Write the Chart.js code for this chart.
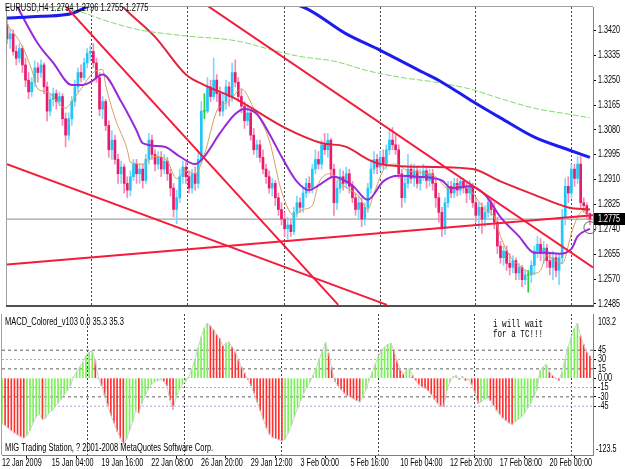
<!DOCTYPE html>
<html>
<head>
<meta charset="utf-8">
<script src="https://cdn.jsdelivr.net/npm/chart.js@4"></script>
<style>
  html, body { margin: 0; padding: 0; background: #fff; }
  #wrap { position: relative; width: 625px; height: 469px; }
  #price { position: absolute; left: 0; top: 0; }
  #macd { position: absolute; left: 0; top: 313px; }
</style>
</head>
<body>
<div id="wrap">
  <canvas id="price" width="625" height="313"></canvas>
  <canvas id="macd" width="625" height="156"></canvas>
</div>
<script>
const FONT = "'Liberation Sans', Arial, sans-serif";
const MONO = "'Liberation Mono', 'DejaVu Sans Mono', monospace";

// EURUSD H4 candles, oldest first (bar index = position)
const opens = [
  1.3441,1.3391,1.3408,1.3348,1.3325,1.3358,1.3302,1.3250,1.3210,1.3243,
  1.3292,1.3276,1.3302,1.3227,1.3144,1.3184,1.3204,1.3177,1.3194,1.3118,
  1.3062,1.3118,1.3177,1.3227,1.3276,1.3259,1.3309,1.3342,1.3348,1.3309,
  1.3259,1.3151,1.3177,1.3095,1.3012,1.3045,1.2979,1.2930,1.2953,1.2897,
  1.2874,1.2920,1.2963,1.2930,1.2946,1.2907,1.2979,1.3045,1.2996,1.2963,
  1.2986,1.2946,1.2973,1.2930,1.2881,1.2808,1.2848,1.2920,1.2953,1.2920,
  1.2881,1.2930,1.2897,1.2979,1.3144,1.3144,1.3227,1.3194,1.3250,1.3204,
  1.3144,1.3177,1.3227,1.3194,1.3276,1.3243,1.3194,1.3161,1.3111,1.3138,
  1.3062,1.3012,1.3029,1.2986,1.2946,1.2920,1.2881,1.2897,1.2848,1.2808,
  1.2775,1.2742,1.2755,1.2732,1.2798,1.2831,1.2815,1.2864,1.2897,1.2881,
  1.2946,1.2979,1.2963,1.3029,1.3012,1.3045,1.2946,1.2831,1.2881,1.2920,
  1.2897,1.2930,1.2887,1.2848,1.2808,1.2831,1.2775,1.2815,1.2881,1.2946,
  1.2979,1.2953,1.2986,1.2963,1.3012,1.3045,1.3029,1.3012,1.2930,1.2848,
  1.2897,1.2946,1.2914,1.2940,1.2897,1.2920,1.2940,1.2907,1.2930,1.2897,
  1.2848,1.2798,1.2742,1.2831,1.2887,1.2864,1.2897,1.2874,1.2904,1.2881,
  1.2864,1.2887,1.2831,1.2788,1.2815,1.2775,1.2798,1.2831,1.2808,1.2765,
  1.2683,1.2643,1.2666,1.2624,1.2610,1.2633,1.2591,1.2610,1.2568,1.2584,
  1.2584,1.2617,1.2666,1.2689,1.2657,1.2676,1.2633,1.2610,1.2643,1.2600,
  1.2643,1.2782,1.2887,1.2864,1.2946,1.2914,1.2963,1.2831,1.2821,1.2794
];
const highs = [
  1.3457,1.3424,1.3421,1.3368,1.3375,1.3368,1.3325,1.3276,1.3259,1.3316,
  1.3309,1.3319,1.3309,1.3243,1.3204,1.3223,1.3217,1.3210,1.3204,1.3138,
  1.3138,1.3194,1.3250,1.3292,1.3302,1.3325,1.3358,1.3368,1.3375,1.3325,
  1.3276,1.3194,1.3184,1.3111,1.3078,1.3062,1.2996,1.2973,1.2963,1.2920,
  1.2940,1.2979,1.2979,1.2963,1.2963,1.2996,1.3068,1.3062,1.3012,1.3006,
  1.3006,1.2996,1.2986,1.2946,1.2897,1.2874,1.2946,1.2973,1.2970,1.2940,
  1.2946,1.2953,1.3012,1.3177,1.3204,1.3259,1.3250,1.3325,1.3269,1.3227,
  1.3204,1.3250,1.3243,1.3309,1.3319,1.3259,1.3217,1.3177,1.3161,1.3144,
  1.3085,1.3045,1.3045,1.3012,1.2963,1.2940,1.2914,1.2907,1.2864,1.2831,
  1.2798,1.2782,1.2775,1.2815,1.2854,1.2848,1.2881,1.2914,1.2920,1.2963,
  1.3012,1.3006,1.3045,1.3068,1.3068,1.3052,1.2963,1.2907,1.2946,1.2940,
  1.2953,1.2946,1.2904,1.2864,1.2854,1.2848,1.2831,1.2897,1.2973,1.3006,
  1.2996,1.3006,1.3012,1.3029,1.3078,1.3088,1.3062,1.3029,1.2946,1.2920,
  1.2996,1.2963,1.2963,1.2953,1.2946,1.2963,1.2953,1.2946,1.2946,1.2914,
  1.2864,1.2815,1.2848,1.2904,1.2904,1.2914,1.2914,1.2920,1.2914,1.2897,
  1.2907,1.2897,1.2848,1.2831,1.2831,1.2821,1.2848,1.2848,1.2831,1.2782,
  1.2699,1.2683,1.2683,1.2657,1.2650,1.2643,1.2624,1.2617,1.2600,1.2600,
  1.2633,1.2683,1.2716,1.2709,1.2699,1.2689,1.2657,1.2666,1.2657,1.2657,
  1.2808,1.2914,1.2920,1.2963,1.2963,1.2989,1.2989,1.2848,1.2831,1.2796
];
const lows = [
  1.3375,1.3358,1.3335,1.3302,1.3309,1.3276,1.3227,1.3187,1.3194,1.3227,
  1.3243,1.3259,1.3204,1.3111,1.3128,1.3161,1.3151,1.3164,1.3095,1.3022,
  1.3045,1.3095,1.3161,1.3210,1.3243,1.3250,1.3292,1.3316,1.3292,1.3243,
  1.3128,1.3118,1.3078,1.2986,1.2979,1.2963,1.2897,1.2897,1.2864,1.2848,
  1.2854,1.2907,1.2897,1.2897,1.2881,1.2897,1.2963,1.2979,1.2940,1.2946,
  1.2920,1.2930,1.2907,1.2854,1.2782,1.2759,1.2831,1.2897,1.2897,1.2864,
  1.2864,1.2874,1.2881,1.2963,1.3118,1.3138,1.3177,1.3184,1.3177,1.3128,
  1.3128,1.3151,1.3161,1.3177,1.3227,1.3177,1.3138,1.3085,1.3095,1.3045,
  1.2996,1.2986,1.2970,1.2930,1.2897,1.2864,1.2854,1.2821,1.2788,1.2755,
  1.2716,1.2706,1.2716,1.2722,1.2782,1.2798,1.2798,1.2848,1.2864,1.2864,
  1.2930,1.2946,1.2946,1.2996,1.2986,1.2920,1.2788,1.2808,1.2864,1.2874,
  1.2881,1.2864,1.2831,1.2788,1.2775,1.2749,1.2755,1.2798,1.2864,1.2930,
  1.2930,1.2940,1.2946,1.2946,1.2996,1.3012,1.2996,1.2914,1.2815,1.2831,
  1.2881,1.2897,1.2887,1.2881,1.2874,1.2907,1.2881,1.2887,1.2874,1.2815,
  1.2765,1.2716,1.2722,1.2815,1.2848,1.2848,1.2854,1.2858,1.2864,1.2831,
  1.2841,1.2815,1.2765,1.2742,1.2726,1.2749,1.2782,1.2788,1.2742,1.2657,
  1.2624,1.2617,1.2600,1.2584,1.2591,1.2568,1.2568,1.2544,1.2551,1.2525,
  1.2558,1.2584,1.2643,1.2633,1.2624,1.2610,1.2584,1.2568,1.2577,1.2551,
  1.2624,1.2755,1.2831,1.2848,1.2887,1.2897,1.2815,1.2798,1.2775,1.2755
];
const closes = [
  1.3391,1.3408,1.3348,1.3325,1.3358,1.3302,1.3250,1.3210,1.3243,1.3292,
  1.3276,1.3302,1.3227,1.3144,1.3184,1.3204,1.3177,1.3194,1.3118,1.3062,
  1.3118,1.3177,1.3227,1.3276,1.3259,1.3309,1.3342,1.3348,1.3309,1.3259,
  1.3151,1.3177,1.3095,1.3012,1.3045,1.2979,1.2930,1.2953,1.2897,1.2874,
  1.2920,1.2963,1.2930,1.2946,1.2907,1.2979,1.3045,1.2996,1.2963,1.2986,
  1.2946,1.2973,1.2930,1.2881,1.2808,1.2848,1.2920,1.2953,1.2920,1.2881,
  1.2930,1.2897,1.2979,1.3144,1.3144,1.3227,1.3194,1.3250,1.3204,1.3144,
  1.3177,1.3227,1.3194,1.3276,1.3243,1.3194,1.3161,1.3111,1.3138,1.3062,
  1.3012,1.3029,1.2986,1.2946,1.2920,1.2881,1.2897,1.2848,1.2808,1.2775,
  1.2742,1.2755,1.2732,1.2798,1.2831,1.2815,1.2864,1.2897,1.2881,1.2946,
  1.2979,1.2963,1.3029,1.3012,1.3045,1.2946,1.2831,1.2881,1.2920,1.2897,
  1.2930,1.2887,1.2848,1.2808,1.2831,1.2775,1.2815,1.2881,1.2946,1.2979,
  1.2953,1.2986,1.2963,1.3012,1.3045,1.3029,1.3012,1.2930,1.2848,1.2897,
  1.2946,1.2914,1.2940,1.2897,1.2920,1.2940,1.2907,1.2930,1.2897,1.2848,
  1.2798,1.2742,1.2831,1.2887,1.2864,1.2897,1.2874,1.2904,1.2881,1.2864,
  1.2887,1.2831,1.2788,1.2815,1.2775,1.2798,1.2831,1.2808,1.2765,1.2683,
  1.2643,1.2666,1.2624,1.2610,1.2633,1.2591,1.2610,1.2568,1.2584,1.2584,
  1.2617,1.2666,1.2689,1.2657,1.2676,1.2633,1.2610,1.2643,1.2600,1.2643,
  1.2782,1.2887,1.2864,1.2946,1.2914,1.2963,1.2831,1.2821,1.2794,1.2775
];

// indicator lines as [bar, price]
const maBlue = [[0,1.3462],[11,1.3468],[21,1.3478],[27,1.3505],[40,1.3530],[64,1.3540],[83,1.3523],[96,1.3500],
  [110,1.3408],[121,1.3352],[135,1.3276],[141,1.3243],[151,1.3177],[160,1.3121],[171,1.3055],[182,1.3012],[189,1.2986]];
const maGreen = [[6,1.3516],[13,1.3500],[24,1.3483],[31,1.3457],[42,1.3424],[58,1.3401],[74,1.3385],[90,1.3342],
  [96,1.3329],[106,1.3315],[117,1.3282],[128,1.3259],[139,1.3243],[150,1.3220],[160,1.3187],[171,1.3154],[182,1.3134],[189,1.3121]];
const maRed = [[32,1.3573],[37,1.3507],[48,1.3398],[58,1.3269],[64,1.3233],[74,1.3187],[90,1.3088],[102,1.3035],
  [110,1.3022],[117,1.2979],[121,1.2963],[128,1.2956],[139,1.2953],[151,1.2946],[160,1.2904],[171,1.2858],[182,1.2815],[189,1.2808]];
const maPurple = [[3,1.3507],[10,1.3375],[15,1.3309],[21,1.3233],[24,1.3233],[27,1.3243],[31,1.3269],[37,1.3177],
  [42,1.3078],[44,1.3035],[51,1.3022],[56,1.2989],[61,1.2963],[64,1.2989],[69,1.3068],[74,1.3134],[77,1.3151],
  [81,1.3134],[85,1.3068],[89,1.2989],[94,1.2903],[98,1.2874],[101,1.2890],[106,1.2920],[112,1.2890],[117,1.2841],
  [122,1.2904],[127,1.2923],[133,1.2920],[141,1.2907],[144,1.2881],[150,1.2887],[155,1.2858],[160,1.2782],
  [166,1.2716],[171,1.2660],[175,1.2660],[179,1.2657],[183,1.2673],[185,1.2716],[189,1.2742]];
const maTan = [[0,1.3441],[5,1.3365],[8,1.3286],[10,1.3220],[13,1.3210],[19,1.3154],[21,1.3177],[24,1.3220],
  [28,1.3276],[31,1.3286],[32,1.3233],[35,1.3121],[39,1.3012],[40,1.2969],[44,1.2963],[48,1.2989],[52,1.2973],
  [55,1.2913],[58,1.2940],[61,1.2930],[64,1.2996],[68,1.3144],[72,1.3177],[76,1.3220],[80,1.3154],[85,1.3045],
  [89,1.2870],[93,1.2788],[96,1.2808],[99,1.2821],[101,1.2897],[105,1.2930],[109,1.2890],[114,1.2854],[117,1.2808],
  [119,1.2864],[123,1.2956],[126,1.2963],[130,1.2940],[133,1.2936],[139,1.2920],[143,1.2880],[146,1.2890],
  [150,1.2874],[155,1.2808],[158,1.2782],[160,1.2716],[163,1.2650],[166,1.2617],[171,1.2590],[173,1.2600],
  [175,1.2650],[177,1.2640],[180,1.2623],[183,1.2726],[185,1.2782],[187,1.2805],[189,1.2791]];

// hand drawn trend lines, two ends each
const trendLines = [
  [[18.6,1.3507],[107.4,1.2482]],
  [[64.6,1.3507],[190,1.2610]],
  [[0,1.2620],[190,1.2788]],
  [[0,1.2963],[123.2,1.2482]]
];
const markedPoint = [[189,1.2746]];

const priceTicks = [1.2485,1.2570,1.2655,1.2740,1.2825,1.2910,1.2995,1.3080,1.3165,1.3250,1.3335,1.3420];
const timeLabels = ['12 Jan 2009','15 Jan 04:00','19 Jan 16:00','22 Jan 08:00','26 Jan 20:00','29 Jan 12:00',
  '3 Feb 00:00','5 Feb 16:00','10 Feb 04:00','12 Feb 20:00','17 Feb 08:00','20 Feb 00:00'];
const labelBars = [0,16,32,48,64,80,96,112,128,144,160,176];
const separatorBars = [27.3,58.5,89.7,120.9,151.8,183];

// MACD_Colored histogram
const macd = [
  -72,-76,-80,-84,-88,-91,-94,-96,-92,-84,
  -72,-62,-58,-66,-64,-56,-52,-46,-40,-34,
  -26,-20,-12,2,10,18,26,36,42,44,
  28,0,-12,-28,-45,-60,-72,-85,-96,-106,
  -98,-84,-70,-52,-56,-40,-28,-18,-10,-6,
  -4,-2,-5,-12,-35,-50,-30,-18,-10,-5,
  2,14,30,48,66,80,88,84,78,70,
  64,52,56,58,50,42,30,18,8,-2,
  -12,-24,-38,-52,-66,-80,-90,-95,-97,-99,
  -101,-98,-88,-76,-62,-48,-36,-24,-14,-6,
  4,16,30,44,57,40,17,-5,-12,-18,
  -24,-28,-30,-33,-36,-38,-30,-18,-4,10,
  22,36,44,50,54,56,45,28,14,6,
  12,15,4,-4,-10,-14,-16,-20,-26,-34,
  -40,-45,-46,-20,-6,2,4,-2,3,-4,
  -2,-10,-24,-40,-38,-34,-32,-36,-44,-52,
  -58,-64,-68,-72,-74,-70,-66,-62,-56,-48,
  -40,-30,-18,12,18,22,10,4,0,-4,
  10,30,50,66,80,88,68,54,42,35.3
];
const macdTicks = [45,30,15,0,-15,-30,-45];
const macdLevels = [45,30,15,-15,-30,-45];
const macdMax = 103.2;
const macdMin = -123.5;

// ---- styling ----
const BULL = '#22c6f6', BULL_WICK = '#7dd8fb';
const BEAR = '#e81a6a', BEAR_WICK = '#fb86b4';
const DOJI = '#33cc33';
const levelColors = ['#606060', '#a8a8e0', '#606060', '#a8a8e0', '#606060', '#a8a8e0'];
const levelDash = [[3,3], [2,2], [3,3], [2,2], [3,3], [2,2]];
const SQUEEZE = 0.72;   // terminal font is much narrower than Arial

const xy = arr => arr.map(([x, y]) => ({ x, y }));
const bars = opens.map((_, i) => i);
const last = closes.length - 1;

function bodyColor(i) {
  if (closes[i] > opens[i]) return BULL;
  if (closes[i] < opens[i]) return BEAR;
  return DOJI;
}
function wickColor(i) {
  if (closes[i] > opens[i]) return BULL_WICK;
  if (closes[i] < opens[i]) return BEAR_WICK;
  return DOJI;
}

function maLine(points, color, width, extra) {
  return Object.assign({
    type: 'line', data: xy(points), borderColor: color, borderWidth: width,
    pointRadius: 0, fill: false, cubicInterpolationMode: 'monotone', order: 1
  }, extra || {});
}

// narrow text, left edge at x
function narrowText(ctx, text, x, y, squeeze) {
  const k = squeeze || SQUEEZE;
  ctx.save();
  ctx.translate(x, y);
  ctx.scale(k, 1);
  ctx.textAlign = 'left';
  ctx.fillText(text, 0, 0);
  ctx.restore();
}

// vertical dotted week separators, shared by both panels
const separators = {
  id: 'separators',
  beforeDatasetsDraw(chart) {
    const { ctx, chartArea: a, scales: { x } } = chart;
    ctx.save();
    ctx.strokeStyle = '#444';
    ctx.lineWidth = 1;
    ctx.setLineDash([2, 2]);
    separatorBars.forEach(b => {
      const px = Math.round(x.getPixelForValue(b)) + 0.5;
      ctx.beginPath();
      ctx.moveTo(px, a.top);
      ctx.lineTo(px, a.bottom);
      ctx.stroke();
    });
    ctx.restore();
  }
};

const priceExtras = {
  id: 'priceExtras',
  afterDraw(chart) {
    const { ctx, chartArea: a, scales: { y } } = chart;
    ctx.save();
    ctx.strokeStyle = '#a0a0a0';
    ctx.lineWidth = 1;
    ctx.beginPath();
    ctx.moveTo(a.left - 0.5, a.bottom);
    ctx.lineTo(a.left - 0.5, a.top - 0.5);
    ctx.lineTo(a.right, a.top - 0.5);
    ctx.stroke();
    ctx.fillStyle = '#505050';
    ctx.fillRect(a.left - 1, a.bottom - 1, a.right - a.left + 2, 2);

    ctx.font = '10px ' + FONT;
    ctx.fillStyle = '#000';
    ctx.textBaseline = 'middle';
    const title = 'EURUSD,H4 ' + [opens[last], highs[last], lows[last], closes[last]].map(v => v.toFixed(4)).join(' ');
    narrowText(ctx, title, 5, 8, 0.75);

    // price scale labels
    priceTicks.forEach(v => narrowText(ctx, v.toFixed(4), a.right + 5, y.getPixelForValue(v)));

    // last price tag on the axis
    const py = Math.round(y.getPixelForValue(closes[last]));
    ctx.fillStyle = '#000';
    ctx.fillRect(a.right + 1, py - 6, 31, 12);
    ctx.fillStyle = '#fff';
    narrowText(ctx, closes[last].toFixed(4), a.right + 5, py);
    ctx.restore();
  }
};

const macdExtras = {
  id: 'macdExtras',
  afterDraw(chart) {
    const { ctx, chartArea: a, scales: { x, y } } = chart;
    ctx.save();
    ctx.strokeStyle = '#a0a0a0';
    ctx.beginPath();
    ctx.moveTo(a.left - 0.5, a.top);
    ctx.lineTo(a.left - 0.5, a.bottom);
    ctx.stroke();

    ctx.fillStyle = '#000';
    ctx.font = '10px ' + FONT;
    ctx.textBaseline = 'middle';
    narrowText(ctx, 'MACD_Colored_v103 0.0 35.3 35.3', 5, 9, 0.75);
    narrowText(ctx, 'MIG Trading Station, ? 2001-2008 MetaQuotes Software Corp.', 5, a.bottom - 7, 0.75);

    macdTicks.forEach(v => narrowText(ctx, v === 0 ? '0.00' : String(v), a.right + 5, y.getPixelForValue(v)));
    narrowText(ctx, String(macdMax), a.right + 5, a.top + 8);
    narrowText(ctx, String(macdMin), a.right + 3, a.bottom - 6);

    ctx.textBaseline = 'top';
    labelBars.forEach((b, i) => narrowText(ctx, timeLabels[i], x.getPixelForValue(b), a.bottom + 3));

    ctx.font = '10px ' + MONO;
    ctx.textBaseline = 'middle';
    narrowText(ctx, 'i will wait', 493, 11, 0.76);
    narrowText(ctx, 'for a TC!!!', 493, 21, 0.76);
    ctx.restore();
  }
};

const fixAxis = (w, h) => s => {
  if (w) s.width = w;
  if (h) s.height = h;
  s.paddingTop = 0; s.paddingBottom = 0; s.paddingLeft = 0; s.paddingRight = 0;
};

new Chart(document.getElementById('price'), {
  type: 'bar',
  data: {
    datasets: [
      maLine(maBlue, '#1c1cf0', 3),
      maLine(maGreen, '#7edc6a', 1, { borderDash: [6, 2] }),
      maLine(maRed, '#e4223c', 2),
      maLine(maPurple, '#9a28d8', 2),
      maLine(maTan, '#d2a05e', 1),
      ...trendLines.map(t => ({
        type: 'line', data: xy(t), borderColor: '#f41c3a', borderWidth: 2,
        pointRadius: 0, fill: false, order: 0
      })),
      {
        type: 'line', data: xy(markedPoint), showLine: false, pointRadius: 6,
        pointBorderColor: '#606060', pointBackgroundColor: 'rgba(0,0,0,0)', pointBorderWidth: 1,
        clip: false, order: 0
      },
      {
        type: 'line', data: [{ x: 0, y: closes[last] }, { x: 190, y: closes[last] }],
        borderColor: '#8c8c8c', borderWidth: 1, pointRadius: 0, order: 9
      },
      {
        data: bars.map(i => ({ x: i, y: [opens[i], closes[i]] })),
        backgroundColor: bars.map(bodyColor), barThickness: 2, minBarLength: 1,
        grouped: false, order: 5
      },
      {
        data: bars.map(i => ({ x: i, y: [lows[i], highs[i]] })),
        backgroundColor: bars.map(wickColor), barThickness: 1,
        grouped: false, order: 6
      }
    ]
  },
  options: {
    responsive: false,
    animation: false,
    events: [],
    layout: { padding: { left: 2, top: 2, right: 0, bottom: 1 } },
    plugins: { legend: { display: false }, tooltip: { enabled: false } },
    scales: {
      x: { type: 'linear', min: 0, max: 190, offset: false, display: false },
      y: {
        position: 'right',
        min: 1.2478,
        max: 1.3500,
        afterBuildTicks: s => { s.ticks = priceTicks.map(v => ({ value: v })); },
        afterFit: fixAxis(32, 0),
        ticks: { display: false },
        grid: { drawOnChartArea: false, tickLength: 3, color: '#000' },
        border: { color: '#808080' }
      }
    }
  },
  plugins: [separators, priceExtras]
});

new Chart(document.getElementById('macd'), {
  type: 'bar',
  data: {
    datasets: [
      {
        type: 'line', data: macd.map((v, i) => ({ x: i, y: v })),
        borderColor: '#cfcfcf', borderWidth: 1, pointRadius: 0, order: 0
      },
      {
        data: macd.map((v, i) => ({ x: i, y: v })),
        backgroundColor: macd.map((v, i) => (i === 0 || v >= macd[i - 1]) ? '#7cf05a' : '#ff3030'),
        barThickness: 1, grouped: false, order: 1
      },
      ...macdLevels.map((lv, k) => ({
        type: 'line', data: [{ x: 0, y: lv }, { x: 190, y: lv }],
        borderColor: levelColors[k], borderDash: levelDash[k], borderWidth: 1,
        pointRadius: 0, order: 3
      }))
    ]
  },
  options: {
    responsive: false,
    animation: false,
    events: [],
    layout: { padding: { left: 2, top: 1, right: 0, bottom: 0 } },
    plugins: { legend: { display: false }, tooltip: { enabled: false } },
    scales: {
      x: {
        type: 'linear', min: 0, max: 190, offset: false,
        afterBuildTicks: s => { s.ticks = labelBars.map(v => ({ value: v })); },
        afterFit: fixAxis(0, 14),
        ticks: { display: false },
        grid: { drawOnChartArea: false, tickLength: 3, color: '#000' },
        border: { color: '#808080' }
      },
      y: {
        position: 'right', min: macdMin, max: macdMax,
        afterBuildTicks: s => { s.ticks = macdTicks.map(v => ({ value: v })); },
        afterFit: fixAxis(32, 0),
        ticks: { display: false },
        grid: { drawOnChartArea: false, tickLength: 3, color: '#000' },
        border: { color: '#808080' }
      }
    }
  },
  plugins: [separators, macdExtras]
});
</script>
</body>
</html>
